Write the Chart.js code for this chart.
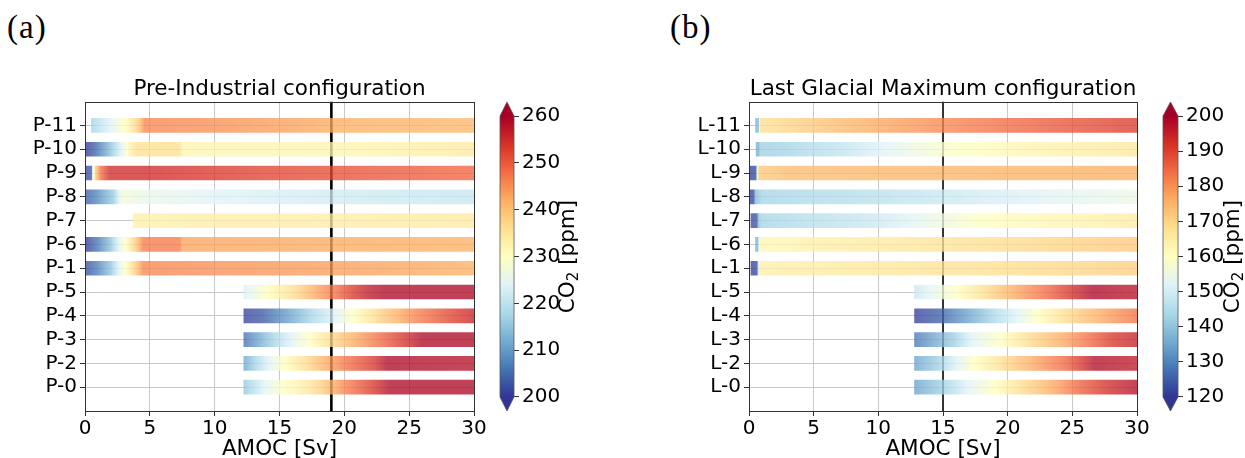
<!DOCTYPE html>
<html>
<head>
<meta charset="utf-8">
<script src="https://cdn.jsdelivr.net/npm/chart.js@4/dist/chart.umd.min.js"></script>
<style>
  html, body { margin: 0; padding: 0; background: #fff; }
  body { width: 1245px; height: 458px; position: relative; overflow: hidden; }
  canvas { position: absolute; top: 0; }
  .panel { position: absolute; font-family: "Liberation Serif", serif; font-size: 33px; line-height: 33px; letter-spacing: 1px; color: #000; }
</style>
</head>
<body>
<div class="panel" style="left:7px;top:11px">(a)</div>
<div class="panel" style="left:670px;top:11px">(b)</div>
<canvas id="mainA" width="500" height="458" style="left:0px"></canvas>
<canvas id="cbarA" width="114" height="458" style="left:490px"></canvas>
<canvas id="mainB" width="500" height="458" style="left:660px"></canvas>
<canvas id="cbarB" width="92" height="458" style="left:1153px"></canvas>
<script>
// rows listed bottom -> top; each row: [AMOC (Sv), CO2 (ppm)]
const labelsPI = ['P-0', 'P-2', 'P-3', 'P-4', 'P-5', 'P-1', 'P-6', 'P-7', 'P-8', 'P-9', 'P-10', 'P-11'];
const P0  = [[12.25, 215], [14, 225], [15.6, 231], [16.4, 232], [18.2, 238], [20.2, 247], [22.3, 254], [23.5, 259], [30, 259]];
const P2  = [[12.25, 211], [14, 223], [15.6, 231], [18.2, 241], [20.2, 248], [22.3, 254], [23.3, 259], [30, 258]];
const P3  = [[12.25, 205], [14.5, 217], [16.1, 225], [17.6, 231], [19.3, 238], [21.6, 245], [24.2, 253], [26, 259], [30, 259]];
const P4  = [[12.25, 201], [13.7, 203], [15.6, 210], [17.6, 218], [19.3, 224], [21, 231], [22.8, 238], [25.4, 246], [28, 252], [30, 256]];
const P5  = [[12.25, 223], [14, 230], [16, 236], [17.6, 242], [19.3, 248], [20.5, 253], [21.8, 257], [23, 259], [30, 259]];
const P1  = [[0.1, 202], [1, 207], [2, 215], [2.7, 225], [3.3, 232], [4, 240], [4.5, 246], [10, 245], [30, 242]];
const P6  = [[0.1, 200], [1, 206], [2, 215], [2.7, 225], [3.3, 232], [4, 240], [4.5, 247], [7.3, 247], [7.5, 243], [30, 242]];
const P7  = [[3.7, 233], [30, 234]];
const P8  = [[0, 203], [1, 208], [2.2, 216], [2.9, 228], [4, 226], [10, 224], [20, 222], [30, 221]];
const P9  = [[0, 201], [0.5, 203], [0.6, 226], [0.8, 238], [1.2, 248], [1.9, 255], [5, 255], [15, 252], [30, 249]];
const P10 = [[0.1, 200], [0.8, 204], [1.5, 210], [2.3, 218], [2.9, 225], [3.4, 232], [4, 236], [7.3, 236], [7.5, 232], [20, 232], [30, 234]];
const P11 = [[0.5, 217], [2, 224], [3.2, 231], [4.2, 240], [4.6, 246], [10, 245], [20, 242], [30, 241]];

const labelsLGM = ['L-0', 'L-2', 'L-3', 'L-4', 'L-5', 'L-1', 'L-6', 'L-7', 'L-8', 'L-9', 'L-10', 'L-11'];
const L0  = [[12.8, 134], [15.4, 144], [16.9, 152], [19, 160], [21.2, 169], [23.8, 178], [25.6, 186], [27.7, 193], [30, 198]];
const L2  = [[12.8, 134], [14.8, 143], [16.1, 152], [17.4, 160], [20, 170], [22.6, 179], [24.6, 186], [25.7, 192], [26.7, 198], [30, 196]];
const L3  = [[12.8, 128], [15.9, 142], [17.2, 152], [19.5, 160], [22, 170], [24.6, 178], [26.4, 185], [28.2, 192], [30, 195]];
const L4  = [[12.8, 121], [14.8, 125], [16.9, 134], [19.2, 145], [20.7, 152], [22.3, 160], [24.6, 169], [27.7, 178], [30, 184]];
const L5  = [[12.8, 148], [14.3, 154], [16.1, 160], [18.6, 170], [21.2, 179], [23.3, 186], [25, 193], [26.6, 199], [30, 197]];
const L1  = [[0.15, 121], [0.6, 122], [0.7, 140], [0.8, 164], [10, 166], [30, 171]];
const L6  = [[0.5, 137], [0.7, 137], [0.8, 162], [5, 164], [15, 167], [30, 172]];
const L7  = [[0.15, 122], [0.6, 123], [0.75, 140], [1, 143], [10, 149], [18, 160], [30, 165]];
const L8  = [[0, 121], [0.35, 122], [0.5, 138], [1, 143], [10, 146], [20, 151], [30, 155]];
const L9  = [[0, 121], [0.5, 122], [0.6, 140], [0.75, 172], [3, 174], [30, 176]];
const L10 = [[0.55, 136], [0.75, 136], [0.85, 142], [3, 143], [7, 147], [10.3, 152], [15.6, 159], [22, 163], [30, 166]];
const L11 = [[0.5, 138], [0.75, 138], [0.85, 168], [3, 170], [8, 175], [15, 181], [22, 186], [30, 191]];

const ticksCO2PI = [200, 210, 220, 230, 240, 250, 260];
const ticksCO2LGM = [120, 130, 140, 150, 160, 170, 180, 190, 200];
const amocTicks = [0, 5, 10, 15, 20, 25, 30];
const amocRefPI = 19;
const amocRefLGM = 15;

const rowsPI = [P0, P2, P3, P4, P5, P1, P6, P7, P8, P9, P10, P11];
const rowsLGM = [L0, L2, L3, L4, L5, L1, L6, L7, L8, L9, L10, L11];

const FONT = '"DejaVu Sans", sans-serif';
const GRID = '#c8c8c8';
const ALPHA = 0.77;

// RdYlBu_r
const cmapHex = ['#313695', '#4575b4', '#74add1', '#abd9e9', '#e0f3f8', '#ffffbf', '#fee090', '#fdae61', '#f46d43', '#d73027', '#a50026'];
const cmapRgb = cmapHex.map(h => [1, 3, 5].map(k => parseInt(h.slice(k, k + 2), 16)));

function cmap(t, a) {
	t = Math.min(1, Math.max(0, t));
	const s = t * 10;
	const i = Math.min(9, Math.floor(s));
	const f = s - i;
	const c = cmapRgb[i].map((v, k) => Math.round(v + (cmapRgb[i + 1][k] - v) * f));
	return `rgba(${c[0]},${c[1]},${c[2]},${a})`;
}

function barFill(rows, lo, hi) {
	return (ctx) => {
		const chart = ctx.chart;
		if (!chart.chartArea) return 'rgba(0,0,0,0)';
		const xs = chart.scales.x;
		const row = rows[ctx.dataIndex];
		const p0 = xs.getPixelForValue(row[0][0]);
		const p1 = xs.getPixelForValue(row[row.length - 1][0]);
		const g = chart.ctx.createLinearGradient(p0, 0, p1, 0);
		for (let k = 0; k < row.length - 1; k++) {
			const [a0, c0] = row[k];
			const [a1, c1] = row[k + 1];
			const n = 10;
			for (let j = 0; j <= n; j++) {
				const f = j / n;
				const px = xs.getPixelForValue(a0 + (a1 - a0) * f);
				const off = Math.min(1, Math.max(0, (px - p0) / (p1 - p0)));
				g.addColorStop(off, cmap((c0 + (c1 - c0) * f - lo) / (hi - lo), ALPHA));
			}
		}
		return g;
	};
}

const frame = {
	id: 'frame',
	afterDatasetsDraw(chart) {
		const { ctx, chartArea: a } = chart;
		ctx.save();
		ctx.strokeStyle = '#333';
		ctx.lineWidth = 1;
		ctx.strokeRect(Math.round(a.left) + 0.5, Math.round(a.top) + 0.5, Math.round(a.right - a.left), Math.round(a.bottom - a.top));
		ctx.restore();
	}
};

function refLine(value, width, color) {
	return {
		id: 'refLine',
		beforeDatasetsDraw(chart) {
			const { ctx, chartArea: a } = chart;
			const x = chart.scales.x.getPixelForValue(value);
			ctx.save();
			ctx.strokeStyle = color;
			ctx.lineWidth = width;
			ctx.beginPath();
			ctx.moveTo(x, a.top);
			ctx.lineTo(x, a.bottom);
			ctx.stroke();
			ctx.restore();
		}
	};
}

function mainChart(id, labels, rows, lo, hi, ref, refW, refColor, title, yWidth, padRight) {
	return new Chart(document.getElementById(id), {
		type: 'bar',
		data: {
			datasets: [{
				data: rows.map((r, i) => ({ x: [r[0][0], r[r.length - 1][0]], y: i })),
				backgroundColor: barFill(rows, lo, hi),
				barThickness: 14,
				borderWidth: 0
			}]
		},
		options: {
			indexAxis: 'y',
			responsive: false,
			animation: false,
			events: [],
			layout: { padding: { left: 0, right: padRight, top: 0, bottom: 0 } },
			plugins: {
				legend: { display: false },
				tooltip: { enabled: false },
				title: {
					display: true, text: title, fullSize: false, color: '#000',
					font: { family: FONT, size: 21.5, weight: 'normal', lineHeight: 1.1 },
					padding: { top: 78, bottom: 0 }
				}
			},
			scales: {
				x: {
					type: 'linear', min: 0, max: 30,
					afterBuildTicks: s => { s.ticks = amocTicks.map(v => ({ value: v })); },
					ticks: { color: '#000', font: { family: FONT, size: 20 }, padding: 1, maxRotation: 0 },
					grid: { color: GRID, lineWidth: 1, tickColor: '#333', tickLength: 5 },
					border: { display: false },
					title: { display: true, text: 'AMOC [Sv]', color: '#000', font: { family: FONT, size: 21.5, lineHeight: 1 }, padding: { top: 0, bottom: -2 } },
					afterFit: s => { s.height = 47; }
				},
				y: {
					type: 'linear', min: -1, max: 12, offset: false,
					afterBuildTicks: s => { s.ticks = labels.map((_, i) => ({ value: i })); },
					ticks: { callback: v => labels[v], autoSkip: false, color: '#000', font: { family: FONT, size: 20 }, padding: 3 },
					grid: { offset: false, color: GRID, lineWidth: 1, tickColor: '#333', tickLength: 5 },
					border: { display: false },
					afterFit: s => { s.width = yWidth; }
				}
			}
		},
		plugins: [refLine(ref, refW, refColor), frame]
	});
}

function cbFill(lo, hi) {
	return (ctx) => {
		const chart = ctx.chart;
		if (!chart.chartArea) return 'rgba(0,0,0,0)';
		const ys = chart.scales.y;
		const g = chart.ctx.createLinearGradient(0, ys.getPixelForValue(lo), 0, ys.getPixelForValue(hi));
		cmapHex.forEach((c, i) => g.addColorStop(i / 10, c));
		return g;
	};
}

function cbExtras(lo, hi, ext, labelOff) {
	return {
		id: 'cbExtras',
		afterDatasetsDraw(chart) {
			const { ctx, chartArea: a } = chart;
			const ys = chart.scales.y;
			const yHi = ys.getPixelForValue(hi), yLo = ys.getPixelForValue(lo);
			const yTop = ys.getPixelForValue(hi + ext), yBot = ys.getPixelForValue(lo - ext);
			const cx = (a.left + a.right) / 2;
			ctx.save();
			ctx.fillStyle = cmapHex[10];
			ctx.beginPath(); ctx.moveTo(a.left, yHi); ctx.lineTo(cx, yTop); ctx.lineTo(a.right, yHi); ctx.closePath(); ctx.fill();
			ctx.fillStyle = cmapHex[0];
			ctx.beginPath(); ctx.moveTo(a.left, yLo); ctx.lineTo(cx, yBot); ctx.lineTo(a.right, yLo); ctx.closePath(); ctx.fill();
			ctx.strokeStyle = '#555';
			ctx.lineWidth = 0.8;
			ctx.beginPath();
			ctx.moveTo(a.left, yHi); ctx.lineTo(cx, yTop); ctx.lineTo(a.right, yHi);
			ctx.lineTo(a.right, yLo); ctx.lineTo(cx, yBot); ctx.lineTo(a.left, yLo);
			ctx.closePath();
			ctx.stroke();

			// colorbar label, reading upwards, with subscript 2
			const big = `21.5px ${FONT}`, small = `15px ${FONT}`;
			ctx.font = big; const wCO = ctx.measureText('CO').width; const wRest = ctx.measureText(' [ppm]').width;
			ctx.font = small; const w2 = ctx.measureText('2').width;
			const total = wCO + w2 + wRest;
			ctx.translate(a.right + labelOff, (yHi + yLo) / 2);
			ctx.rotate(-Math.PI / 2);
			ctx.fillStyle = '#000';
			ctx.textBaseline = 'middle';
			ctx.textAlign = 'left';
			let x = -total / 2;
			ctx.font = big; ctx.fillText('CO', x, 0); x += wCO;
			ctx.font = small; ctx.fillText('2', x, 6); x += w2;
			ctx.font = big; ctx.fillText(' [ppm]', x, 0);
			ctx.restore();
		}
	};
}

function colorbar(id, lo, hi, ticks, ext, scaleW, labelOff) {
	return new Chart(document.getElementById(id), {
		type: 'bar',
		data: {
			labels: [''],
			datasets: [{ data: [[lo, hi]], backgroundColor: cbFill(lo, hi), barPercentage: 1, categoryPercentage: 1, borderWidth: 0 }]
		},
		options: {
			responsive: false,
			animation: false,
			events: [],
			layout: { padding: { left: 10, right: 0, top: 102, bottom: 47 } },
			plugins: { legend: { display: false }, tooltip: { enabled: false } },
			scales: {
				x: { display: false },
				y: {
					position: 'right', min: lo - ext, max: hi + ext,
					afterBuildTicks: s => { s.ticks = ticks.map(v => ({ value: v })); },
					ticks: { color: '#000', font: { family: FONT, size: 20 }, padding: 3 },
					grid: { drawOnChartArea: false, tickColor: '#333', tickLength: 5 },
					border: { display: false },
					afterFit: s => { s.width = scaleW; }
				}
			}
		},
		plugins: [cbExtras(lo, hi, ext, labelOff)]
	});
}

mainChart('mainA', labelsPI, rowsPI, 200, 260, amocRefPI, 2.6, '#000', 'Pre-Industrial configuration', 85, 26);
colorbar('cbarA', 200, 260, ticksCO2PI, 3, 90, 54);
mainChart('mainB', labelsLGM, rowsLGM, 120, 200, amocRefLGM, 1.8, '#222', 'Last Glacial Maximum configuration', 89, 23);
colorbar('cbarB', 120, 200, ticksCO2LGM, 4, 67, 55);
</script>
</body>
</html>
